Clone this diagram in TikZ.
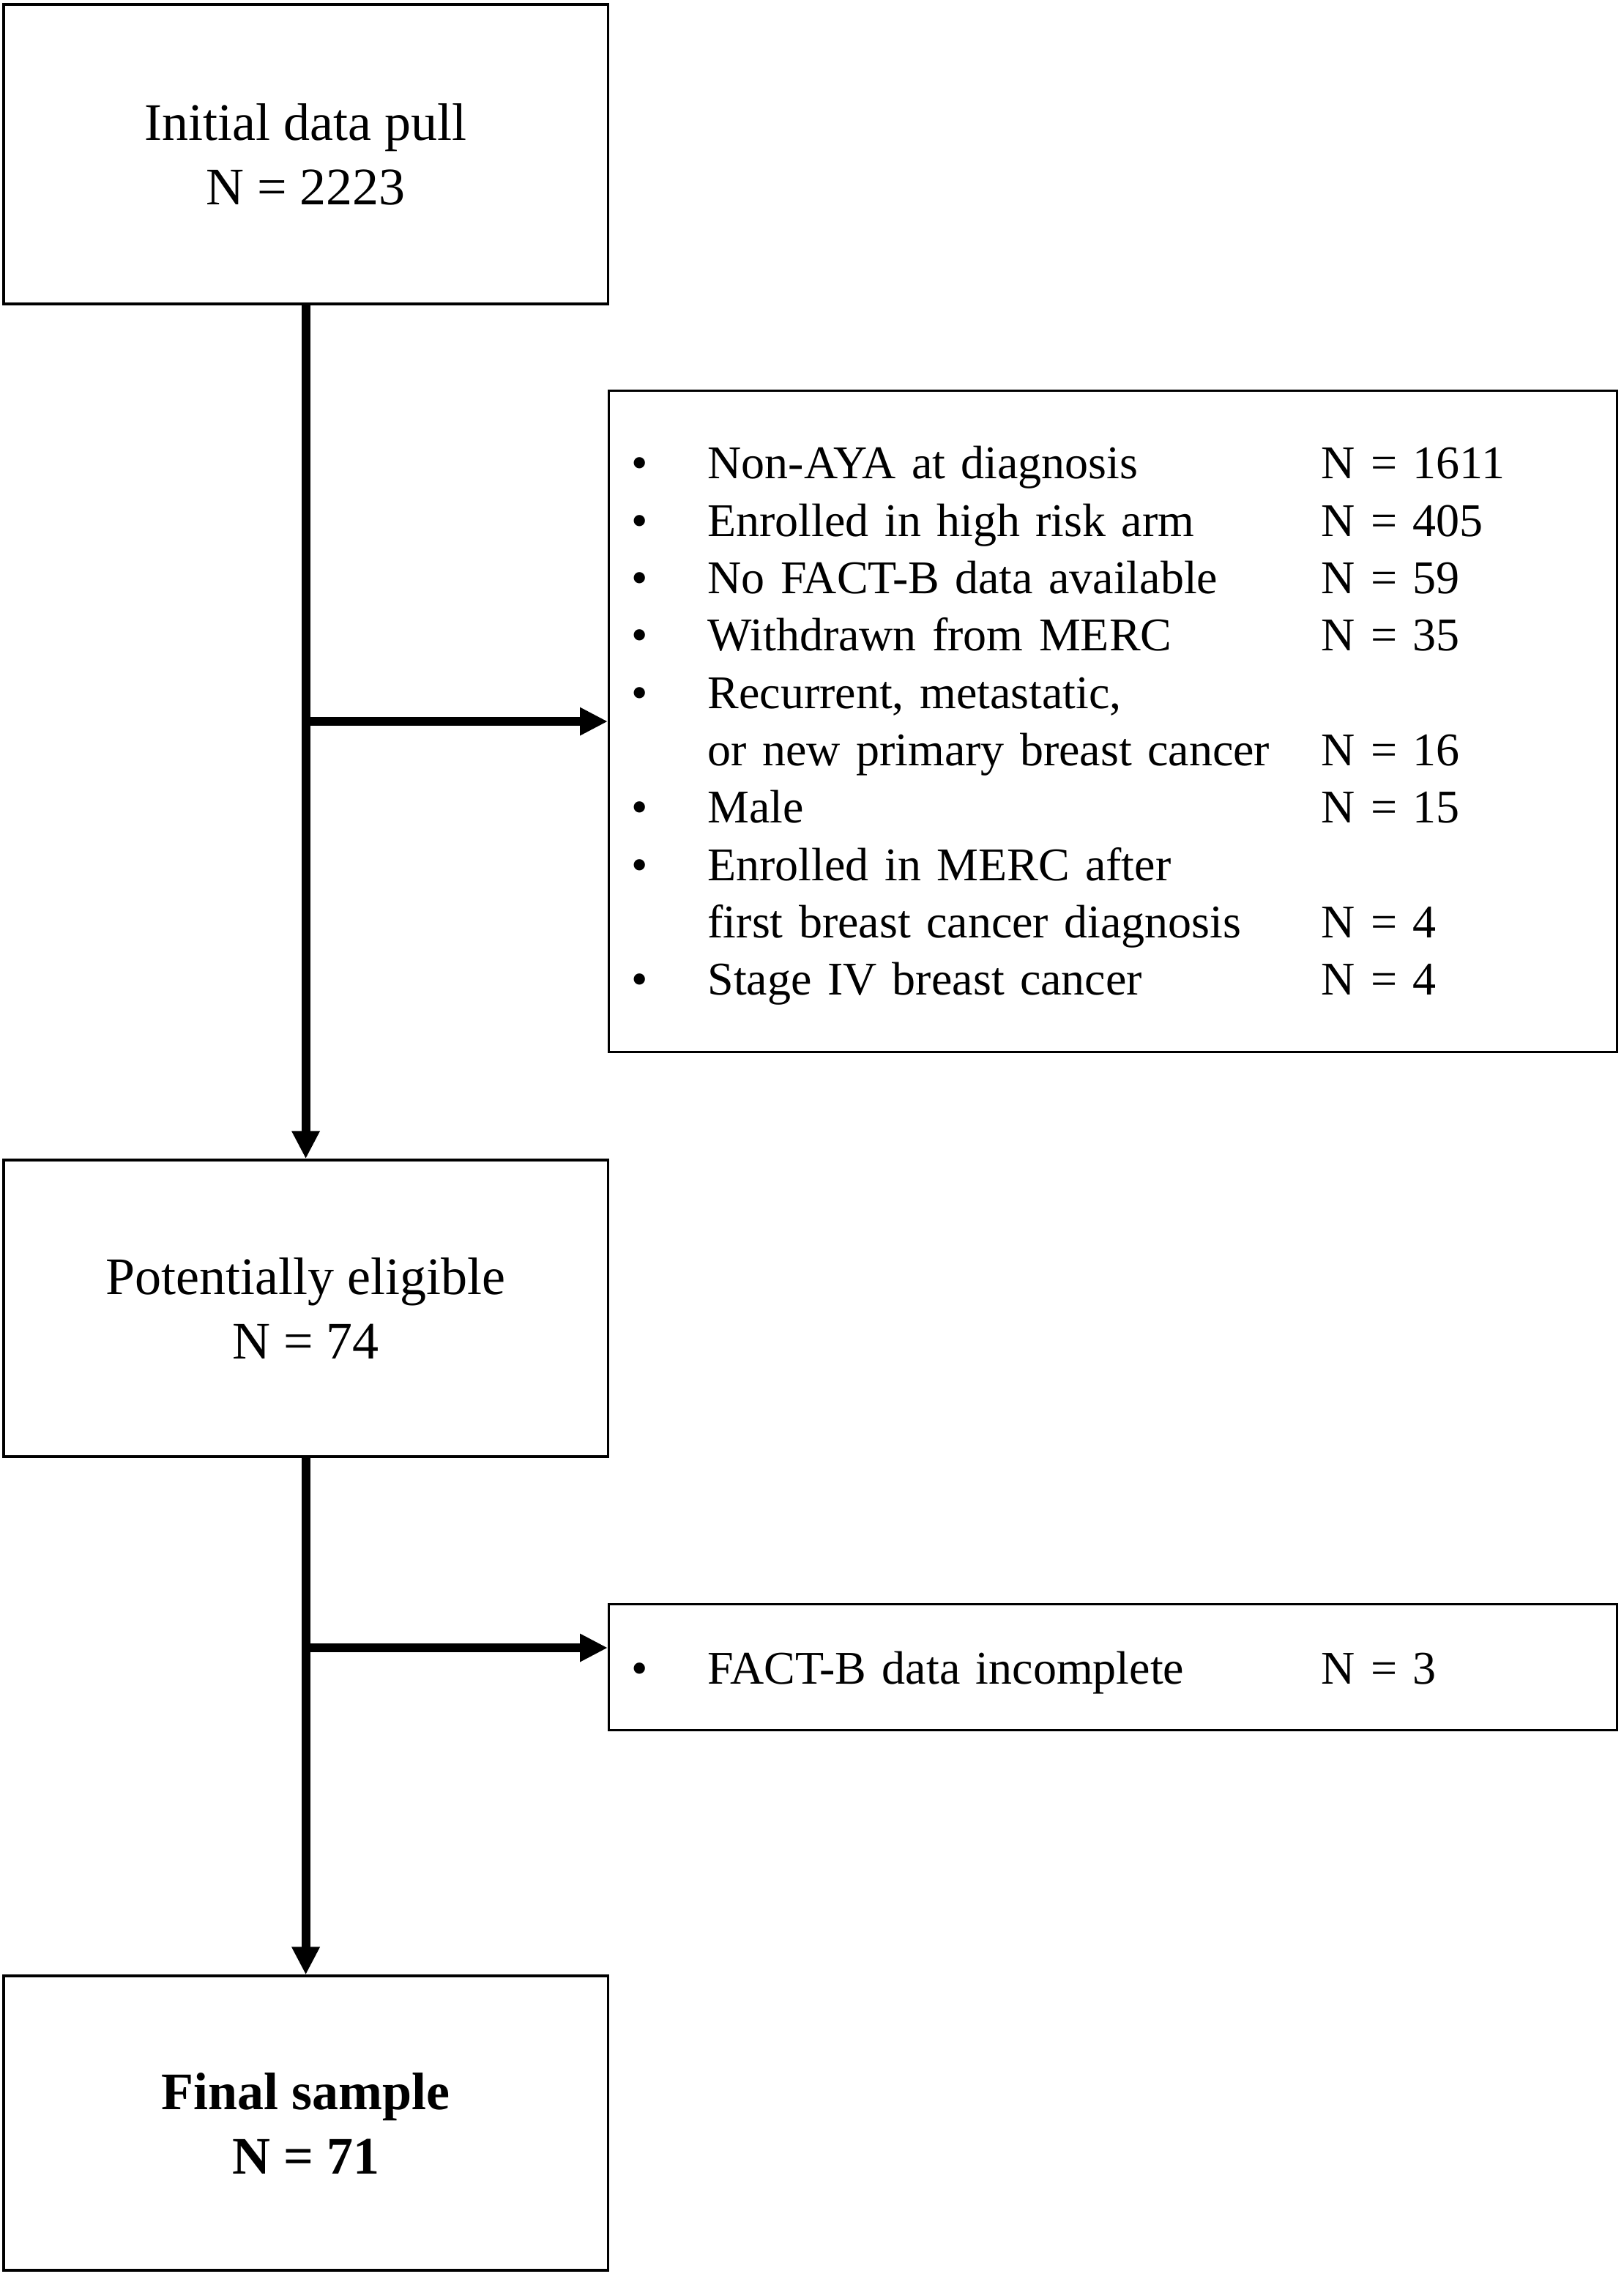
\documentclass[tikz,border=0pt]{standalone}
\usepackage{fontspec}
\setmainfont{Liberation Serif}
\usetikzlibrary{arrows.meta}
\newcommand\exitem[2]{\makebox[26pt][l]{\textbullet}\makebox[209.5pt][l]{#1}#2}
\newcommand\excont[1]{\makebox[26pt][l]{}#1}
\begin{document}
\begin{tikzpicture}[
  mainbox/.style={draw, line width=0.8pt, minimum width=206.25pt, inner sep=0pt,
    align=center, font=\fontsize{18}{22}\selectfont},
  exbox/.style={draw, line width=0.8pt, inner xsep=7.75pt, inner ysep=0pt,
    text width=328.75pt, align=left, font=\fontsize{16}{19.58}\selectfont,
    minimum width=344.25pt, anchor=north west},
  conn/.style={line width=3pt},
  arr/.style={conn, -{Triangle[length=9.5pt,width=9pt]}}
]
\useasboundingbox (0,0) rectangle (554.25pt,-779pt);
\node[mainbox, minimum height=102.25pt] (init) at (104.4pt,-52.6pt) {Initial data pull\\N = 2223};
\node[mainbox, minimum height=101.25pt] (elig) at (104.4pt,-446.6pt) {Potentially eligible\\N = 74};
\node[mainbox, minimum height=100.5pt] (final) at (104.4pt,-724.75pt) {\textbf{Final sample}\\\textbf{N = 71}};
\node[exbox, minimum height=225.75pt] (ex1) at (207.5pt,-133pt) {%
\rule{0pt}{14pt}\exitem{Non-AYA at diagnosis}{N = 1611}\\
\exitem{Enrolled in high risk arm}{N = 405}\\
\exitem{No FACT-B data available}{N = 59}\\
\exitem{Withdrawn from MERC}{N = 35}\\
\exitem{Recurrent, metastatic,}{}\\
\excont{\makebox[209.5pt][l]{or new primary breast cancer}N = 16}\\
\exitem{Male}{N = 15}\\
\exitem{Enrolled in MERC after}{}\\
\excont{\makebox[209.5pt][l]{first breast cancer diagnosis}N = 4}\\
\exitem{Stage IV breast cancer}{N = 4}};
\node[exbox, minimum height=43pt] (ex2) at (207.5pt,-547.25pt) {\rule{0pt}{15pt}\exitem{FACT-B data incomplete}{N = 3}};
\draw[arr] (init.south) -- (elig.north);
\draw[arr] (init.south |- ex1.west) -- (ex1.west);
\coordinate (b2) at (104.4pt,-562.5pt);
\draw[arr] (elig.south) -- (final.north);
\draw[arr] (b2) -- (b2 -| ex2.west);
\end{tikzpicture}
\end{document}
